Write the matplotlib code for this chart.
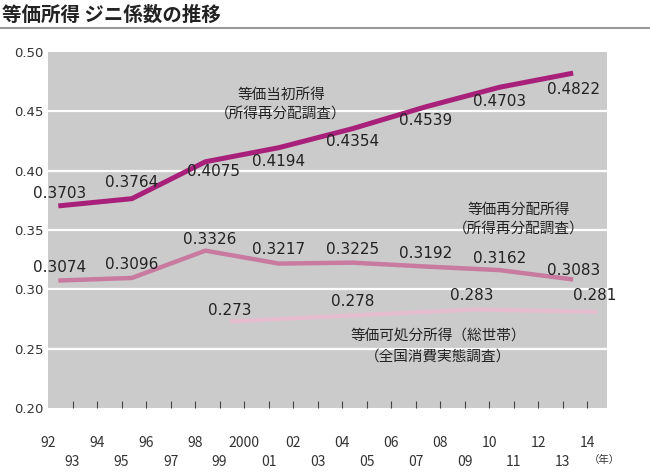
#!/usr/bin/env python
# -*- coding: utf-8 -*-
"""等価所得 ジニ係数の推移"""
import matplotlib

matplotlib.use("Agg")
import matplotlib.pyplot as plt
import numpy as np

JP = ["Noto Sans CJK JP", "DejaVu Sans"]
NUM = ["DejaVu Sans", "Noto Sans CJK JP"]
plt.rcParams["font.family"] = JP

# 所得再分配調査
years_saibunpai = [1992, 1995, 1998, 2001, 2004, 2007, 2010, 2013]
gini_initial = [0.3703, 0.3764, 0.4075, 0.4194, 0.4354, 0.4539, 0.4703, 0.4822]
gini_redist = [0.3074, 0.3096, 0.3326, 0.3217, 0.3225, 0.3192, 0.3162, 0.3083]
# 全国消費実態調査
years_zensho = [1999, 2004, 2009, 2014]
gini_disposable = [0.273, 0.278, 0.283, 0.281]

tick_years = list(range(1992, 2015))
tick_labels = ["2000" if y == 2000 else f"{y % 100:02d}" for y in tick_years]
y_ticks = [0.20, 0.25, 0.30, 0.35, 0.40, 0.45, 0.50]

# 数値ラベルのずらし (pixel)
off_initial = [(1, 12), (0, 16), (8, -10), (0, -14), (0, -13), (0, -14), (0, -14), (0, -16)]
off_redist = [(1, 13), (0, 13), (4, 11), (0, 14), (0, 13), (0, 13), (0, 12), (0, 9)]
off_disp = [(0, 11), (0, 14), (-3, 14), (-3, 16)]

MID = 0.42  # 年の中央付近にプロット

C_INIT = "#a8207a"
C_REDIST = "#c97a9f"
C_DISP = "#e6bccf"

fig = plt.figure(figsize=(6.5, 4.74), dpi=100)
ax = fig.add_axes([48 / 650, 1 - 408 / 474, (607 - 48) / 650, (408 - 52) / 474])
ax.set_facecolor("#cbcbcb")
for s in ax.spines.values():
    s.set_visible(False)

for yv in y_ticks[1:-1]:
    ax.axhline(yv, color="white", lw=1.6, zorder=1)

x1 = np.array(years_saibunpai) + MID
x3 = np.array(years_zensho) + MID
ax.plot(x1, gini_initial, color=C_INIT, lw=3.6, solid_capstyle="butt", zorder=3)
ax.plot(x1, gini_redist, color=C_REDIST, lw=3.2, solid_capstyle="butt", zorder=3)
ax.plot(x3, gini_disposable, color=C_DISP, lw=3.0, solid_capstyle="butt", zorder=3)

for xs, ys, offs, fmt in [
    (x1, gini_initial, off_initial, "{:.4f}"),
    (x1, gini_redist, off_redist, "{:.4f}"),
    (x3, gini_disposable, off_disp, "{:.3f}"),
]:
    for xv, yv, (dx, dy) in zip(xs, ys, offs):
        ax.annotate(fmt.format(yv), (xv, yv), xytext=(dx, dy), textcoords="offset pixels",
                    ha="center", va="center", fontsize=11, color="#222222", zorder=4,
                    family=NUM, annotation_clip=False)

name_kw = dict(ha="center", va="center", fontsize=10.5, color="#222222", linespacing=1.55)
ax.text(2001.5, 0.4555, "等価当初所得\n（所得再分配調査）", **name_kw)
ax.text(2011.2, 0.3585, "等価再分配所得\n（所得再分配調査）", **name_kw)
ax.text(2007.9, 0.2514, "等価可処分所得（総世帯）\n（全国消費実態調査）", **name_kw)

ax.set_xlim(1992, 2014.8)
ax.set_ylim(0.20, 0.50)
ax.set_yticks(y_ticks)
ax.set_yticklabels([f"{v:.2f}" for v in y_ticks], family=NUM)
ax.tick_params(axis="y", length=0, pad=3, labelsize=9.5, labelcolor="#333333")

even = [y for y in tick_years if y % 2 == 0]
odd = [y for y in tick_years if y % 2 == 1]
ax.set_xticks(even)
ax.set_xticklabels([tick_labels[tick_years.index(y)] for y in even])
ax.set_xticks(odd, minor=True)
ax.set_xticklabels([tick_labels[tick_years.index(y)] for y in odd], minor=True)
ax.tick_params(axis="x", which="both", direction="in", length=5, width=0.8, color="#444444",
               labelsize=10, labelcolor="#333333")
ax.tick_params(axis="x", which="major", pad=20)
ax.tick_params(axis="x", which="minor", pad=34)
ax.xaxis.get_major_ticks()[0].tick1line.set_visible(False)

ax.text(2014.7, -0.146, "（年）", transform=ax.get_xaxis_transform(), ha="center", va="center",
        fontsize=7.5, color="#333333")

fig.text(2 / 650, 1 - 15 / 474, "等価所得 ジニ係数の推移", ha="left", va="center",
         fontsize=14, fontweight="bold", color="#222222")
fig.add_artist(plt.Line2D([0, 1], [1 - 28 / 474, 1 - 28 / 474], transform=fig.transFigure,
                          color="#999999", lw=1.5))

fig.savefig("out.png", dpi=100)
